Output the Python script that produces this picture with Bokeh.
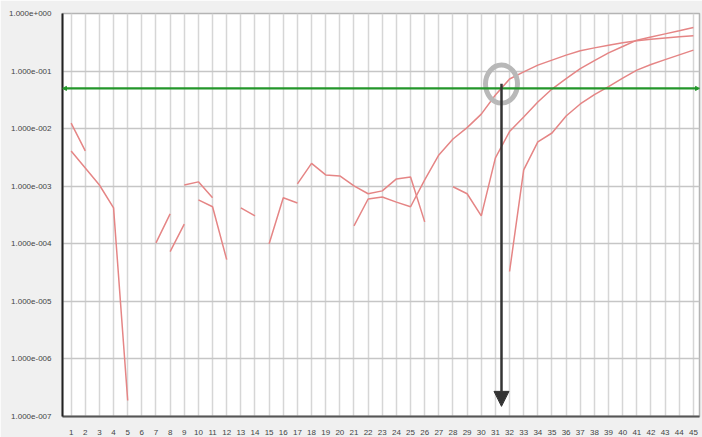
import math
from bokeh.plotting import figure
from bokeh.models import (FixedTicker, CustomJSTickFormatter, Arrow, NormalHead,
                          Range1d)
from bokeh.embed import file_html
from bokeh.resources import INLINE

nan = float("nan")

cycles = list(range(1, 46))

# Sample 1 (earliest Ct)
sample_1 = [4.1e-3, 2.08e-3, 1.05e-3, 4.2e-4, 1.9e-7, nan, 1.04e-4, 3.3e-4, nan, 5.8e-4,
            4.4e-4, 5.3e-5, nan, nan, 1.0e-4, 6.3e-4, 5.1e-4, nan, nan, nan,
            2.05e-4, 6.0e-4, 6.5e-4, 5.3e-4, 4.4e-4, 1.29e-3, 3.5e-3, 6.6e-3, 0.0104, 0.0179,
            0.0384, 0.0727, 0.097, 0.127, 0.155, 0.189, 0.225, 0.253, 0.282, 0.309,
            0.335, 0.358, 0.377, 0.393, 0.409]

# Sample 2
sample_2 = [0.0125, 4.1e-3, nan, nan, nan, nan, nan, nan, 1.05e-3, 1.19e-3,
            6.3e-4, nan, 4.2e-4, 3.05e-4, nan, nan, 1.1e-3, 2.5e-3, 1.57e-3, 1.51e-3,
            1.01e-3, 7.4e-4, 8.3e-4, 1.34e-3, 1.45e-3, 2.4e-4, nan, 9.8e-4, 7.4e-4, 3.05e-4,
            3.1e-3, 8.9e-3, 0.0159, 0.029, 0.0487, 0.074, 0.110, 0.152, 0.207, 0.267,
            0.344, 0.390, 0.443, 0.503, 0.572]

# Sample 3 (latest Ct)
sample_3 = [nan, nan, nan, nan, nan, nan, nan, 7.3e-5, 2.2e-4, nan,
            nan, nan, nan, nan, nan, nan, nan, nan, nan, nan,
            nan, nan, nan, nan, nan, nan, nan, nan, nan, nan,
            nan, 3.3e-5, 1.92e-3, 5.9e-3, 8.4e-3, 0.0166, 0.0268, 0.0391, 0.0538, 0.0756,
            0.104, 0.130, 0.158, 0.191, 0.231]

threshold = 0.05
ct_value = 31.43
ct_marker_y = 0.0594
arrow_top = 0.06
arrow_tip = 1.5e-7

y_ticks = [1e-7, 1e-6, 1e-5, 1e-4, 1e-3, 1e-2, 1e-1, 1.0]
y_tick_labels = ["1.000e-007", "1.000e-006", "1.000e-005", "1.000e-004",
                 "1.000e-003", "1.000e-002", "1.000e-001", "1.000e+000"]
x_tick_labels = [str(c) for c in cycles]

X_START, X_END = 0.39, 45.43

p = figure(width=702, height=437,
           x_range=Range1d(X_START, X_END), y_range=Range1d(1e-7, 1.0),
           y_axis_type="log", output_backend="svg", toolbar_location=None,
           min_border_left=62, min_border_right=3, min_border_top=13, min_border_bottom=20,
           background_fill_color="white", border_fill_color="#f0f0f0")

p.outline_line_color = "#b4b4b4"
p.outline_line_width = 1.5

# axes
p.xaxis.ticker = FixedTicker(ticks=cycles)
p.xaxis.formatter = CustomJSTickFormatter(args=dict(labels=x_tick_labels),
                                          code="return labels[Math.round(tick) - 1];")
p.yaxis.ticker = FixedTicker(ticks=y_ticks)
p.yaxis.formatter = CustomJSTickFormatter(args=dict(vals=y_ticks, labels=y_tick_labels), code="""
let best = 0, bd = 1e9;
for (let i = 0; i < vals.length; i++) {
  const d = Math.abs(Math.log10(vals[i]) - Math.log10(tick));
  if (d < bd) { bd = d; best = i; }
}
return labels[best];
""")
for ax in (p.xaxis[0], p.yaxis[0]):
    ax.major_tick_line_color = None
    ax.minor_tick_line_color = None
    ax.major_label_text_font = "Liberation Sans"
    ax.major_label_text_font_size = "8px"
    ax.major_label_text_color = "#444444"
p.xaxis.axis_line_color = "#555555"
p.xaxis.axis_line_width = 2
p.xaxis.major_label_standoff = 7
p.yaxis.axis_line_color = "#222222"
p.yaxis.axis_line_width = 2
p.yaxis.major_label_standoff = 5

# grid
p.xgrid.ticker = FixedTicker(ticks=cycles)
p.xgrid.grid_line_color = "#d6d6d6"
p.xgrid.grid_line_width = 1.5
p.ygrid.ticker = FixedTicker(ticks=y_ticks)
p.ygrid.grid_line_color = "#c6c6c6"
p.ygrid.grid_line_width = 1.5
p.ygrid.minor_grid_line_color = None

# amplification curves
curve_color = "#e58585"
for s in (sample_1, sample_2, sample_3):
    p.line(cycles, s, line_color=curve_color, line_width=1.5)

# threshold line
green = "#23962a"
p.add_layout(Arrow(start=NormalHead(size=4, fill_color=green, line_color=green),
                   end=NormalHead(size=4, fill_color=green, line_color=green),
                   x_start=X_START, x_end=X_END, y_start=threshold, y_end=threshold,
                   line_color=green, line_width=2.2))

# Ct marker circle
p.ellipse(x=[ct_value], y=[ct_marker_y], width=32, height=38,
          width_units="screen", height_units="screen",
          fill_color=None, line_color="#b8b8b8", line_width=5)

# Ct arrow
dark = "#333333"
p.add_layout(Arrow(end=NormalHead(size=15, fill_color=dark, line_color=dark),
                   x_start=ct_value, x_end=ct_value, y_start=arrow_top, y_end=arrow_tip,
                   line_color=dark, line_width=2.5))

open("out.html", "w").write(file_html(p, INLINE))
